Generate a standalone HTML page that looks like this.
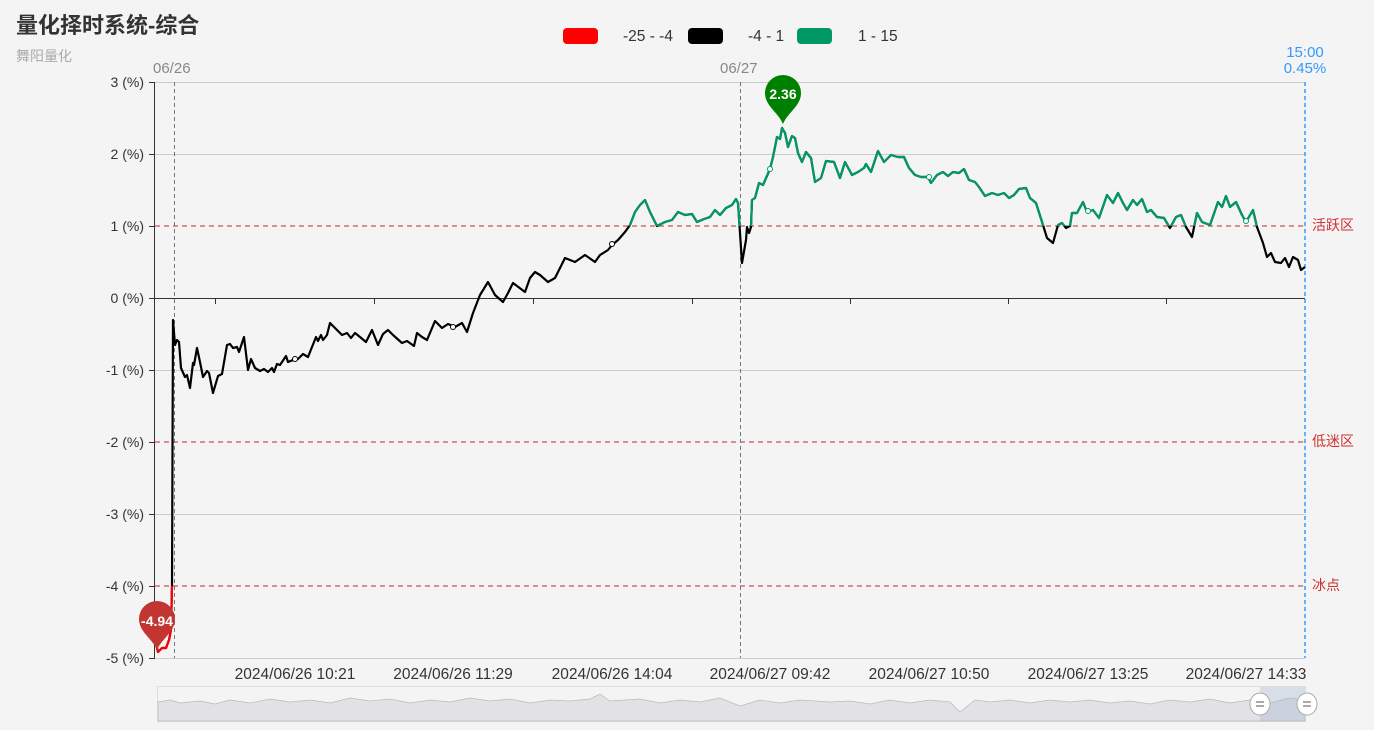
<!DOCTYPE html>
<html><head><meta charset="utf-8"><style>
html,body{margin:0;padding:0;background:#f4f4f4;width:1374px;height:730px;overflow:hidden}
svg{display:block}
text{font-family:"Liberation Sans","Noto Sans CJK SC",sans-serif}
</style></head><body>
<svg width="1374" height="730" viewBox="0 0 1374 730">
<rect width="1374" height="730" fill="#f4f4f4"/>
<text x="16" y="33" font-size="22" font-weight="bold" fill="#333">量化择时系统-综合</text>
<text x="16" y="61" font-size="14" fill="#aaa">舞阳量化</text>
<!-- legend -->
<rect x="563" y="28" width="35" height="16" rx="4" fill="#ff0000"/>
<text x="623" y="41" font-size="15.5" fill="#333">-25 - -4</text>
<rect x="688" y="28" width="35" height="16" rx="4" fill="#000"/>
<text x="748" y="41" font-size="15.5" fill="#333">-4 - 1</text>
<rect x="797" y="28" width="35" height="16" rx="4" fill="#009966"/>
<text x="858" y="41" font-size="15.5" fill="#333">1 - 15</text>
<!-- grid -->
<g stroke="#ccc" stroke-width="1">
<line x1="155" y1="82.5" x2="1305" y2="82.5"/>
<line x1="155" y1="154.5" x2="1305" y2="154.5"/>
<line x1="155" y1="370.5" x2="1305" y2="370.5"/>
<line x1="155" y1="514.5" x2="1305" y2="514.5"/>
<line x1="155" y1="658.5" x2="1305" y2="658.5"/>
</g>
<g stroke="#d05050" stroke-width="1.3" stroke-dasharray="5,4">
<line x1="155" y1="226" x2="1305" y2="226"/>
<line x1="155" y1="442" x2="1305" y2="442"/>
<line x1="155" y1="586" x2="1305" y2="586"/>
</g>
<g font-size="14" fill="#d03030">
<text x="1312" y="230">活跃区</text>
<text x="1312" y="446">低迷区</text>
<text x="1312" y="590">冰点</text>
</g>
<!-- axes -->
<line x1="154.5" y1="82" x2="154.5" y2="658" stroke="#333"/>
<line x1="155" y1="298.5" x2="1305" y2="298.5" stroke="#333"/>
<g stroke="#333">
<line x1="149" y1="82.5" x2="155" y2="82.5"/><line x1="149" y1="154.5" x2="155" y2="154.5"/>
<line x1="149" y1="226.5" x2="155" y2="226.5"/><line x1="149" y1="298.5" x2="155" y2="298.5"/>
<line x1="149" y1="370.5" x2="155" y2="370.5"/><line x1="149" y1="442.5" x2="155" y2="442.5"/>
<line x1="149" y1="514.5" x2="155" y2="514.5"/><line x1="149" y1="586.5" x2="155" y2="586.5"/>
<line x1="149" y1="658.5" x2="155" y2="658.5"/>
<line x1="215.5" y1="298" x2="215.5" y2="304"/><line x1="374.5" y1="298" x2="374.5" y2="304"/>
<line x1="533.5" y1="298" x2="533.5" y2="304"/><line x1="692.5" y1="298" x2="692.5" y2="304"/>
<line x1="850.5" y1="298" x2="850.5" y2="304"/><line x1="1008.5" y1="298" x2="1008.5" y2="304"/>
<line x1="1166.5" y1="298" x2="1166.5" y2="304"/>
</g>
<g font-size="14" fill="#333" text-anchor="end">
<text x="144" y="87">3 (%)</text><text x="144" y="159">2 (%)</text>
<text x="144" y="231">1 (%)</text><text x="144" y="303">0 (%)</text>
<text x="144" y="375">-1 (%)</text><text x="144" y="447">-2 (%)</text>
<text x="144" y="519">-3 (%)</text><text x="144" y="591">-4 (%)</text>
<text x="144" y="663">-5 (%)</text>
</g>
<g font-size="15.5" fill="#333" text-anchor="middle">
<text x="295" y="679">2024/06/26 10:21</text><text x="453" y="679">2024/06/26 11:29</text>
<text x="612" y="679">2024/06/26 14:04</text><text x="770" y="679">2024/06/27 09:42</text>
<text x="929" y="679">2024/06/27 10:50</text><text x="1088" y="679">2024/06/27 13:25</text>
<text x="1246" y="679">2024/06/27 14:33</text>
</g>
<!-- day separators -->
<g stroke="#777" stroke-dasharray="4,3">
<line x1="174.5" y1="82" x2="174.5" y2="658"/>
<line x1="740.5" y1="82" x2="740.5" y2="658"/>
</g>
<line x1="1305" y1="82" x2="1305" y2="658" stroke="#3399ff" stroke-width="1.5" stroke-dasharray="4,3"/>
<g font-size="15" fill="#888"><text x="153" y="73">06/26</text><text x="720" y="73">06/27</text></g>
<g font-size="15" fill="#3399ff" text-anchor="middle"><text x="1305" y="57">15:00</text><text x="1305" y="73">0.45%</text></g>
<defs>
<clipPath id="cg"><rect x="150" y="60" width="1200" height="166"/></clipPath>
<clipPath id="cr"><rect x="150" y="586" width="30" height="100"/></clipPath>
<polyline id="ln" fill="none" stroke-width="2.2" stroke-linejoin="round" points="155,640 158,652 162,648 166,648 169,640 171,630 172,586 173,320 175,345 177,340 179,342 181,368 185,377 187,375 190,388 193,363 194,365 197,348 200,362 203,377 207,371 209,373 213,393 218,376 222,374 227,345 230,344 233,348 237,347 239,352 244,337 248,370 251,359 255,368 260,371 264,369 268,372 272,368 274,372 277,364 280,365 286,356 288,362 293,360 298,359 303,354 308,357 316,337 318,341 321,335 323,340 327,335 330,323 337,330 342,335 347,333 351,338 355,333 360,337 366,342 372,330 378,345 383,334 388,330 393,335 402,343 407,341 414,346 417,333 422,337 427,340 435,321 442,328 448,324 455,327 462,323 467,332 473,313 480,295 488,282 495,295 503,302 508,293 513,283 525,292 530,278 535,272 540,275 548,282 555,278 560,268 565,258 575,262 585,255 595,262 600,255 608,250 612,245 618,240 625,232 630,225 635,212 640,205 645,200 650,212 657,226 665,222 672,220 678,212 685,215 692,214 697,222 704,219 710,217 715,210 720,215 726,208 732,205 736,199 738,203 742,263 746,240 747,227 749,233 751,227 752,200 755,198 759,183 763,185 770,169 773,157 777,137 780,139 782,128 785,133 788,147 792,136 795,138 798,153 802,162 806,152 811,158 815,182 821,178 826,161 834,162 840,178 845,162 852,175 858,172 864,168 866,164 871,172 878,151 884,162 891,155 898,157 904,157 909,168 915,175 921,177 928,177 931,183 937,175 943,172 948,176 953,172 959,173 964,169 969,180 975,182 979,187 985,196 992,193 998,195 1004,193 1009,198 1014,195 1019,189 1026,188 1030,198 1036,203 1043,225 1047,238 1053,243 1058,225 1062,223 1066,228 1070,226 1072,213 1077,213 1083,202 1087,212 1093,210 1099,218 1107,195 1113,203 1118,193 1123,203 1127,210 1133,200 1137,205 1142,199 1147,212 1151,210 1157,217 1164,218 1170,228 1176,217 1181,215 1186,227 1192,237 1197,213 1202,222 1210,225 1218,202 1222,207 1226,196 1230,207 1236,202 1242,215 1246,222 1253,210 1257,227 1263,243 1267,257 1271,253 1275,262 1281,263 1285,258 1289,267 1293,257 1298,260 1301,270 1305,267"/>
</defs>
<use href="#ln" stroke="#000"/>
<use href="#ln" stroke="#009966" clip-path="url(#cg)"/>
<use href="#ln" stroke="#ff0000" clip-path="url(#cr)"/>
<g fill="#fff" stroke="#009966" stroke-width="1">
<circle cx="770" cy="169" r="2.5"/><circle cx="929" cy="177" r="2.5"/><circle cx="1088" cy="211" r="2.5"/><circle cx="1246" cy="221" r="2.5"/><circle cx="612" cy="244" r="2.5" stroke="#000"/><circle cx="453" cy="327" r="2.5" stroke="#000"/><circle cx="295" cy="359" r="2.5" stroke="#000"/>
</g>
<!-- pins -->
<path d="M783,124 C778,112 765,106 765,93 A18,18 0 1 1 801,93 C801,106 788,112 783,124Z" fill="#008000"/>
<text x="783" y="99" font-size="14" font-weight="bold" fill="#fff" text-anchor="middle">2.36</text>
<path d="M157,650 C152,638 139,632 139,619 A18,18 0 1 1 175,619 C175,632 162,638 157,650Z" fill="#c23531"/>
<text x="157" y="626" font-size="14" font-weight="bold" fill="#fff" text-anchor="middle">-4.94</text>
<!-- datazoom -->
<rect x="157.5" y="686.5" width="1148" height="35" fill="none" stroke="#ddd"/>
<path d="M158,702 L170,700 180,703 200,701 215,704 230,700 250,703 270,699 290,702 310,700 330,703 350,698 370,701 390,699 410,703 430,700 450,702 470,698 490,701 510,699 530,703 550,700 570,701 590,699 600,694 610,701 640,699 660,703 680,700 700,702 720,698 740,706 760,700 780,703 800,700 830,702 850,701 870,704 890,700 910,703 930,700 950,702 960,712 975,700 990,702 1010,700 1030,703 1050,700 1070,702 1090,700 1110,703 1130,701 1150,704 1170,700 1190,702 1210,699 1230,703 1250,700 1270,703 1290,698 1305,700 L1305,721 L158,721Z" fill="#e2e2e4" stroke="#bbb" stroke-width="0.7"/>
<rect x="1260" y="687" width="45" height="34" fill="rgba(160,180,210,0.35)"/>
<g fill="#fff" stroke="#aaa">
<ellipse cx="1260" cy="704" rx="10" ry="11"/><ellipse cx="1307" cy="704" rx="10" ry="11"/>
</g>
<g stroke="#555" stroke-width="1"><line x1="1256" y1="702" x2="1264" y2="702"/><line x1="1256" y1="706" x2="1264" y2="706"/><line x1="1303" y1="702" x2="1311" y2="702"/><line x1="1303" y1="706" x2="1311" y2="706"/></g>
</svg>
</body></html>
